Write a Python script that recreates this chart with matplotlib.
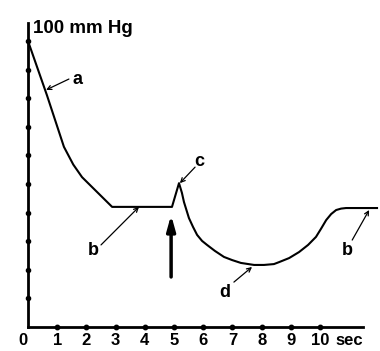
import matplotlib
matplotlib.use("Agg")
import matplotlib.pyplot as plt

# Data
time_s = [0, 0.65, 1.23, 1.55, 1.85, 2.88, 4.93, 5.17, 5.27, 5.34, 5.51, 5.65,
          5.79, 5.96, 6.13, 6.40, 6.71, 6.99, 7.29, 7.74, 8.08, 8.42, 8.60,
          8.94, 9.28, 9.59, 9.86, 10.03, 10.21, 10.38, 10.55, 10.72, 10.89, 11.95]
pressure = [100, 81, 63, 56.8, 52.4, 42, 42, 50.3, 46.9, 43.7, 38.1, 35.0,
            32.2, 30.1, 28.7, 26.6, 24.5, 23.4, 22.4, 21.7, 21.7, 22.0, 22.7,
            24.1, 26.2, 28.7, 31.5, 34.3, 37.4, 39.5, 40.9, 41.4, 41.6, 41.6]

x_ticks = [0, 1, 2, 3, 4, 5, 6, 7, 8, 9, 10, 11]
x_tick_labels = ["0", "1", "2", "3", "4", "5", "6", "7", "8", "9", "10", "sec"]
x_dots = [1, 2, 3, 4, 5, 6, 7, 8, 9, 10]
y_dots = [10, 20, 30, 40, 50, 60, 70, 80, 90, 100]
y_label = "100 mm Hg"

# annotation labels: (text, text pos, arrow tail, arrow tip)
labels = ["a", "b", "c", "d", "b"]
label_pos = [(1.68, 86.4), (2.23, 26.9), (5.86, 58.0), (6.75, 12.2), (10.92, 26.9)]
arrow_tail = [(1.40, 86.7), (2.50, 28.7), (5.72, 55.9), (7.05, 15.7), (11.10, 30.4)]
arrow_tip = [(0.62, 82.9), (3.80, 42.0), (5.20, 50.3), (7.67, 21.0), (11.68, 40.9)]

stim_x = 4.9
stim_from = 17.5
stim_to = 39.2

font = "Liberation Sans"

fig = plt.figure(figsize=(3.8, 3.51), dpi=100)
ax = fig.add_axes([28 / 380, 24 / 351, 335 / 380, 304 / 351])
ax.set_xlim(0, 11.47)
ax.set_ylim(0, 106.3)

for s in ["top", "right"]:
    ax.spines[s].set_visible(False)
for s in ["left", "bottom"]:
    ax.spines[s].set_linewidth(2.0)
    ax.spines[s].set_color("black")

ax.plot(time_s, pressure, color="black", lw=1.5, clip_on=False, zorder=3,
        solid_joinstyle="round")

ax.plot(x_dots, [0] * len(x_dots), "o", color="black", ms=3.2, clip_on=False, zorder=4)
ax.plot([0] * len(y_dots), y_dots, "o", color="black", ms=3.0, clip_on=False, zorder=4)

ax.set_yticks([])
ax.set_xticks(x_ticks)
ax.set_xticklabels(x_tick_labels, fontfamily=font, fontweight="bold", fontsize=12)
ax.tick_params(axis="x", length=0, pad=4)
lbls = ax.get_xticklabels()
lbls[0].set_horizontalalignment("right")

ax.text(0.17, 104.5, y_label, ha="left", va="center", fontfamily=font,
        fontweight="bold", fontsize=13.5, clip_on=False)

for t, p, tail, tip in zip(labels, label_pos, arrow_tail, arrow_tip):
    ax.text(p[0], p[1], t, ha="center", va="center", fontfamily=font,
            fontweight="bold", fontsize=13, clip_on=False)
    ax.annotate("", xy=tip, xytext=tail,
                arrowprops=dict(arrowstyle="->,head_width=0.15,head_length=0.3",
                                lw=0.9, color="black", shrinkA=0, shrinkB=0),
                annotation_clip=False)

ax.annotate("", xy=(stim_x, stim_to), xytext=(stim_x, stim_from),
            arrowprops=dict(arrowstyle="-|>,head_width=0.25,head_length=0.9",
                            lw=2.5, color="black", shrinkA=0, shrinkB=0))

fig.savefig("out.png", dpi=100)
